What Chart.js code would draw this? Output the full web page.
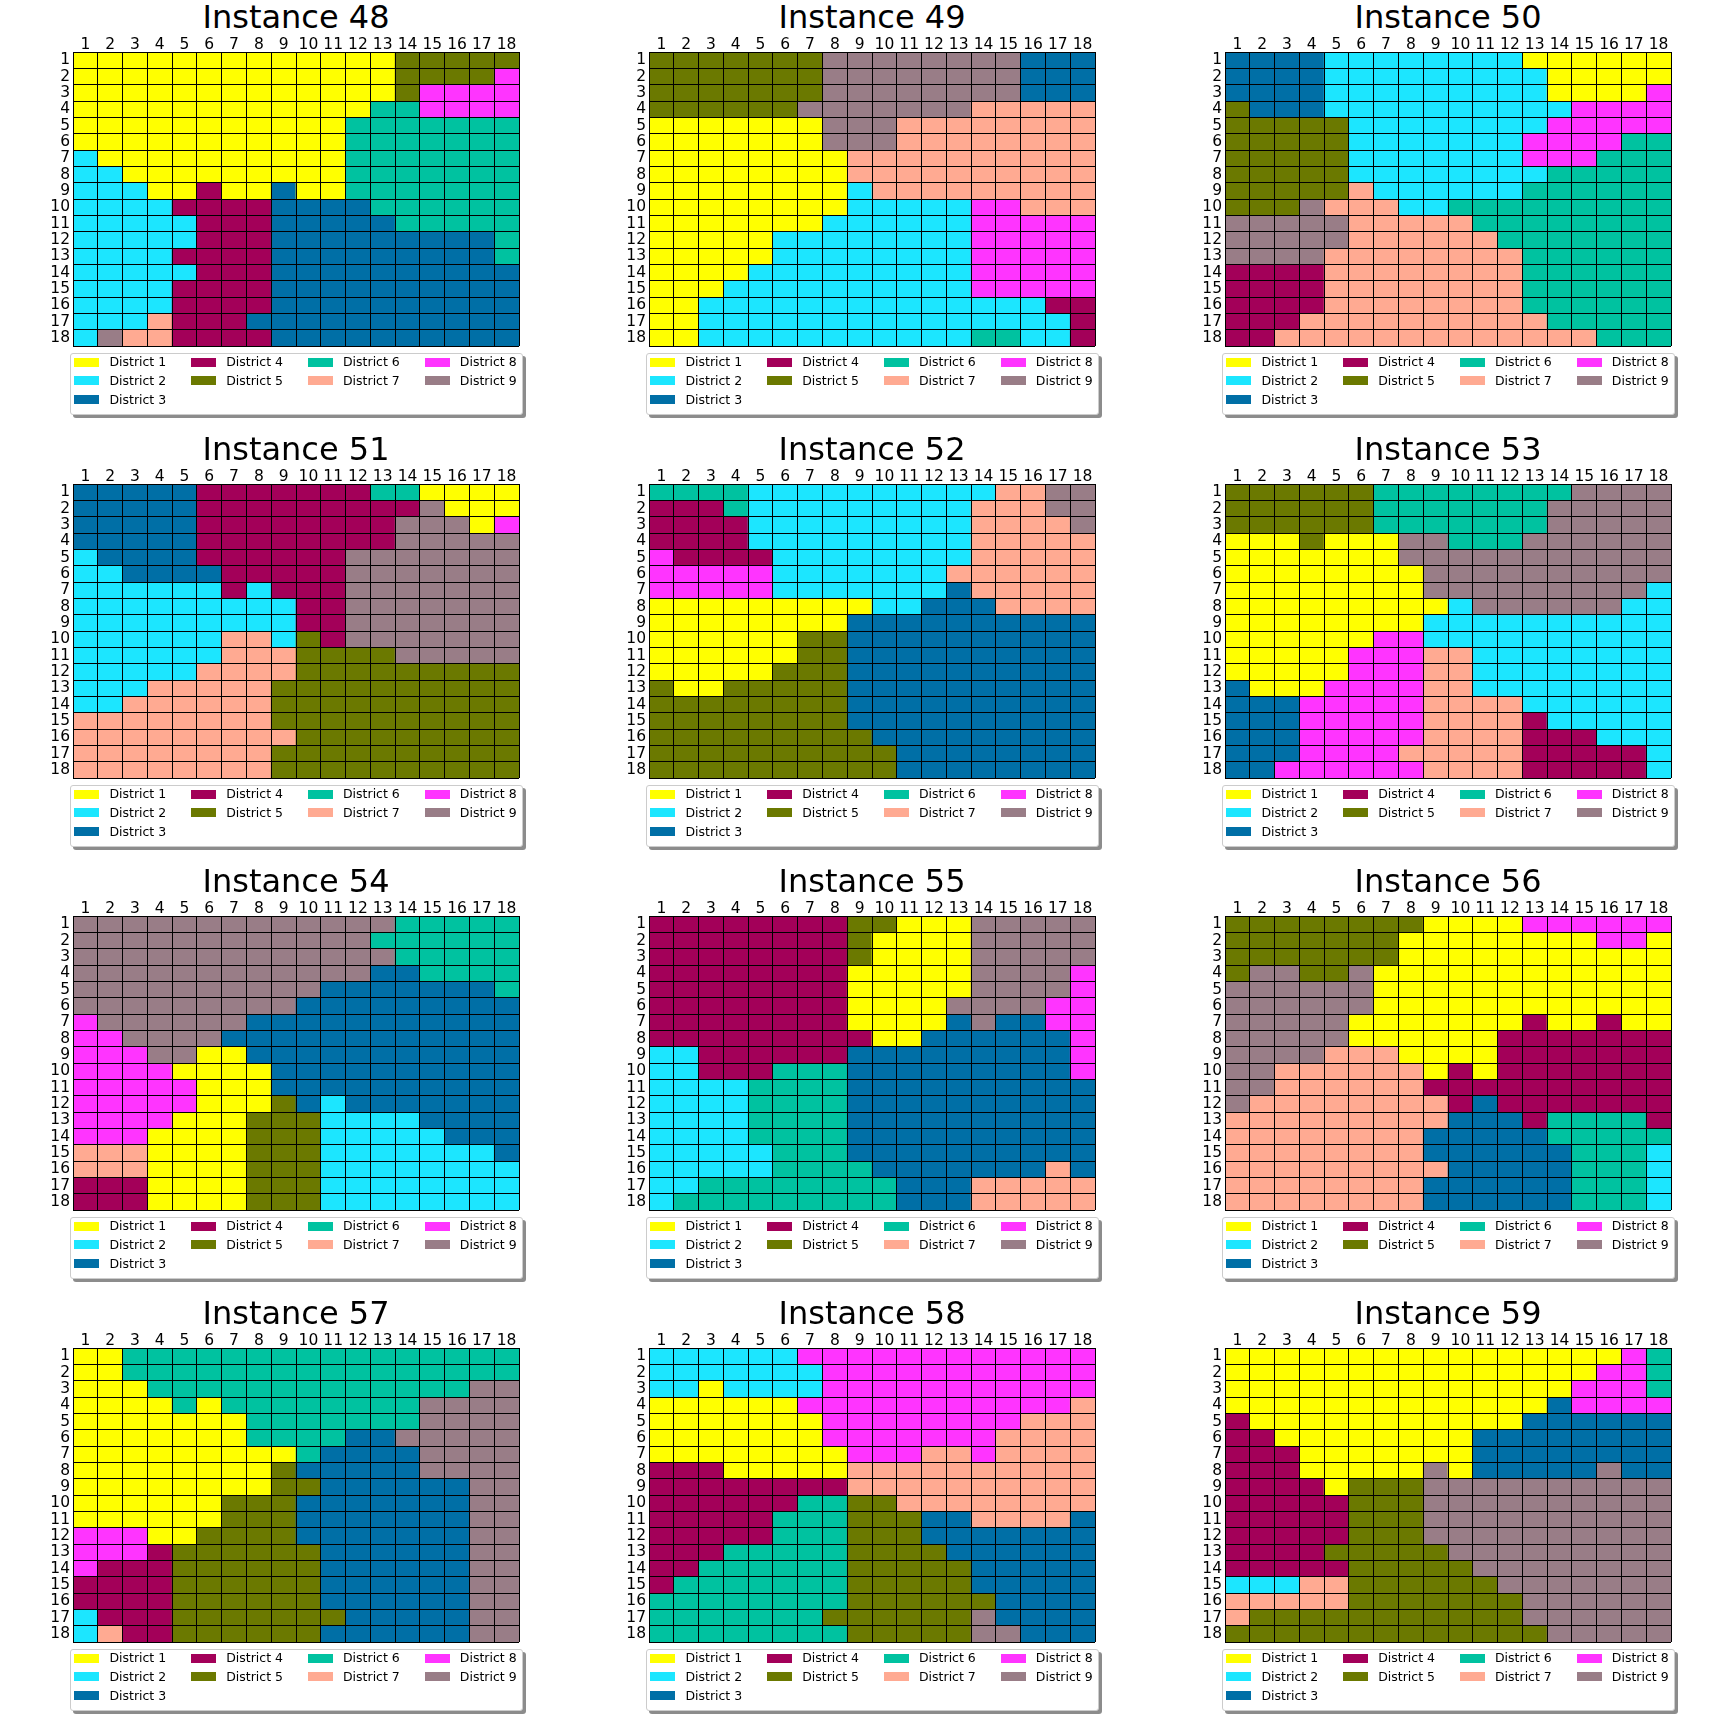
<!DOCTYPE html>
<html>
<head>
<meta charset="utf-8">
<script src="https://cdn.jsdelivr.net/npm/chart.js@4/dist/chart.umd.min.js"></script>
<style>
html,body{margin:0;padding:0;background:#fff;}
body{width:1728px;height:1728px;position:relative;overflow:hidden;font-family:'DejaVu Sans',sans-serif;color:#000;}
.title{position:absolute;font-size:32px;line-height:36px;height:36px;text-align:center;white-space:nowrap;}
.cv{position:absolute;}
.legend{position:absolute;background:#fff;border:1px solid #ccc;border-radius:3px;box-shadow:3px 3px 0 rgba(0,0,0,0.45);box-sizing:border-box;}
.sw{position:absolute;width:25px;height:9px;}
.lt{position:absolute;height:18px;line-height:18px;font-size:12.5px;white-space:nowrap;}
</style>
</head>
<body>
<script>
// ---------- data ----------
const districtNames = ['District 1','District 2','District 3','District 4','District 5','District 6','District 7','District 8','District 9'];
const districtColors = ['#FFFF00','#1CE6FF','#006FA6','#A30059','#6B7900','#00C2A0','#FFAA92','#FF34FF','#997D87'];
const columnLabels = ['1','2','3','4','5','6','7','8','9','10','11','12','13','14','15','16','17','18'];
const rowLabels = ['1','2','3','4','5','6','7','8','9','10','11','12','13','14','15','16','17','18'];
const instanceNames = ['Instance 48','Instance 49','Instance 50','Instance 51','Instance 52','Instance 53','Instance 54','Instance 55','Instance 56','Instance 57','Instance 58','Instance 59'];

// each string is one row (top to bottom); each digit is the district of a column (left to right)
const instance48 = [
'111111111111155555','111111111111155558','111111111111158888','111111111111668888',
'111111111116666666','111111111116666666','211111111116666666','221111111116666666',
'222114113116666666','222244443333666666','222224443333366666','222224443333333336',
'222244443333333336','222224443333333333','222244443333333333','222244443333333333',
'222744433333333333','297744443333333333'];
const instance49 = [
'555555599999999333','555555599999999333','555555599999999333','555555999999977777',
'111111199977777777','111111199977777777','111111117777777777','111111117777777777',
'111111112777777777','111111112222288777','111111122222288888','111112222222288888',
'111112222222288888','111122222222288888','111222222222288888','112222222222222244',
'112222222222222224','112222222222266224'];
const instance50 = [
'333322222222111111','333322222222211111','333322222222211118','533322222222228888',
'555552222222288888','555552222222888866','555552222222888666','555552222222266666',
'555557222222666666','555977722666666666','999997777766666666','999997777776666666',
'999977777777666666','444477777777666666','444477777777666666','444477777777666666',
'444777777777766666','447777777777777666'];
const instance51 = [
'333334444444661111','333334444444449111','333334444444499918','333334444444499999',
'233334444449999999','223333444449999999','222222424449999999','222222222449999999',
'222222222449999999','222222772549999999','222222777555599999','222227777555555555',
'222777775555555555','227777775555555555','777777775555555555','777777777555555555',
'777777775555555555','777777775555555555'];
const instance52 = [
'666622222222227799','444622222222277799','444422222222277779','444422222222277777',
'844442222222277777','888882222222777777','888882222222377777','111111111223337777',
'111111113333333333','111111553333333333','111111553333333333','111115553333333333',
'511555553333333333','555555553333333333','555555553333333333','555555555333333333',
'555555555533333333','555555555533333333'];
const instance53 = [
'555555666666669999','555555666666699999','555555666666699999','111511199666999999',
'111111199999999999','111111119999999999','111111119999999992','111111111299999922',
'111111112222222222','111111882222222222','111118887722222222','111118887722222222',
'311188887722222222','333888887777222222','333888887777422222','333888887777444222',
'333888877777444442','338888887777444442'];
const instance54 = [
'999999999999966666','999999999999666666','999999999999966666','999999999999336666',
'999999999933333336','999999999333333333','899999933333333333','889999333333333333',
'888991133333333333','888811113333333333','888881113333333333','888881115323333333',
'888811155522223333','888111155522222333','777111155522222223','777111155522222222',
'444111155522222222','444111155522222222'];
const instance55 = [
'444444445511199999','444444445111199999','444444445111199999','444444441111199998',
'444444441111199998','444444441111999988','444444441111393388','444444444113333338',
'224444443333333338','224446663333333338','222266663333333333','222266663333333333',
'222266663333333333','222266663333333333','222226663333333333','222226666333333373',
'226666666633377777','266666666633377777'];
const instance56 = [
'555555551111888888','555555511111111881','555555511111111111','599559111111111111',
'999999111111111111','999999111111111111','999991111111411411','999991111114444444',
'999977711114444444','997777771414444444','997777774444444444','977777777434444444',
'777777777333466664','777777773333366666','777777773333336662','777777777333336662',
'777777773333336662','777777773333336662'];
const instance57 = [
'116666666666666666','116666666666666666','111666666666666699','111161666666669999',
'111111166666669999','111111166663399999','111111111633339999','111111115333339999',
'111111115533333399','111111555333333399','111111555333333399','888115555333333399',
'888455555533333399','844455555533333399','444455555533333399','444455555533333399',
'244455555553333399','274455555533333399'];
const instance58 = [
'222222888888888888','222222288888888888','221222288888888888','111111888888888887',
'111111188888888777','111111188888887777','111111118887787777','444111117777777777',
'444444447777777777','444444665577777777','444446665553377773','444446665553333333',
'444666665555333333','446666665555533333','466666665555533333','666666665555553333',
'666666655555593333','666666665555599333'];
const instance59 = [
'111111111111111186','111111111111111886','111111111111118886','111111111111138888',
'411111111111333333','441111111133333333','444111111133333333','444111119133333933',
'444415559999999999','444445559999999999','444445559999999999','444445559999999999',
'444455555999999999','444445555599999999','222775555559999999','777775555555999999',
'755555555555999999','555555555555599999'];

const instances = [instance48, instance49, instance50, instance51, instance52, instance53,
                   instance54, instance55, instance56, instance57, instance58, instance59];

instances.forEach((g, k) => {
  if (g.length !== rowLabels.length) throw new Error('bad row count ' + instanceNames[k]);
  g.forEach((row, r) => {
    if (row.length !== columnLabels.length || /[^1-9]/.test(row))
      throw new Error('bad row ' + instanceNames[k] + ' r' + (r + 1) + ' len ' + row.length);
  });
});

// ---------- layout ----------
const colLeft = [73, 649, 1225];
const rowTop = [52, 484, 916, 1348];
const GW = 446, GH = 294;
const Y_AXIS_W = 50, X_AXIS_H = 24, PAD_R = 6, PAD_B = 14;
const legendColumns = [[0, 1, 2], [3, 4], [5, 6], [7, 8]];
const tickFont = { family: 'DejaVu Sans', size: 15.5, lineHeight: 1 };

instances.forEach((grid, k) => {
  const c = k % 3, r = Math.floor(k / 3);
  const gl = colLeft[c], gt = rowTop[r];

  // title
  const t = document.createElement('div');
  t.className = 'title';
  t.textContent = instanceNames[k];
  t.style.left = gl + 'px';
  t.style.width = GW + 'px';
  t.style.top = (gt - 53) + 'px';
  document.body.appendChild(t);

  // chart
  const cv = document.createElement('canvas');
  cv.className = 'cv';
  const cw = Y_AXIS_W + GW + PAD_R, ch = X_AXIS_H + GH + PAD_B;
  cv.width = cw; cv.height = ch;
  cv.style.width = cw + 'px'; cv.style.height = ch + 'px';
  cv.style.left = (gl - Y_AXIS_W) + 'px';
  cv.style.top = (gt - X_AXIS_H) + 'px';
  document.body.appendChild(cv);

  const datasets = grid.map((row, ri) => ({
    label: rowLabels[ri],
    data: columnLabels.map(() => 1),
    backgroundColor: row.split('').map(d => districtColors[+d - 1]),
    borderWidth: 0,
    barPercentage: 1,
    categoryPercentage: 1
  }));

  new Chart(cv, {
    type: 'bar',
    data: { labels: columnLabels, datasets },
    options: {
      responsive: false,
      animation: false,
      devicePixelRatio: 1,
      events: [],
      layout: { padding: { left: 0, top: 0, right: PAD_R, bottom: PAD_B } },
      plugins: { legend: { display: false }, tooltip: { enabled: false }, title: { display: false } },
      scales: {
        x: {
          type: 'category', position: 'top', stacked: true, offset: true,
          grid: { offset: true, color: '#000', lineWidth: 1, drawTicks: false, z: 1 },
          border: { display: true, color: '#000', width: 1, z: 2 },
          ticks: { autoSkip: false, maxRotation: 0, minRotation: 0, color: '#000', padding: -1, font: tickFont, z: 2 },
          afterFit: s => { s.height = X_AXIS_H; }
        },
        y: {
          type: 'linear', position: 'left', stacked: true, reverse: true, min: 0, max: rowLabels.length,
          grid: { color: '#000', lineWidth: 1, drawTicks: false, z: 1 },
          border: { display: true, color: '#000', width: 1, z: 2 },
          afterBuildTicks: s => { s.ticks = rowLabels.map((_, i) => ({ value: i })).concat([{ value: rowLabels.length }]); },
          ticks: {
            autoSkip: false, color: '#000', padding: 3, font: tickFont, z: 2,
            labelOffset: GH / rowLabels.length / 2,
            callback: (v, i) => (i < rowLabels.length ? rowLabels[i] : '')
          },
          afterFit: s => { s.width = Y_AXIS_W; }
        }
      }
    }
  });

  // legend
  const lg = document.createElement('div');
  lg.className = 'legend';
  lg.style.left = (gl - 3.3) + 'px';
  lg.style.top = (gt + GH + 6.8) + 'px';
  lg.style.width = '453px';
  lg.style.height = '62px';
  legendColumns.forEach((col, ci) => {
    col.forEach((d, j) => {
      const sx = 3.7 + ci * 116.8, cy = 8.4 + j * 18.7;
      const sw = document.createElement('div');
      sw.className = 'sw';
      sw.style.background = districtColors[d];
      sw.style.left = sx + 'px';
      sw.style.top = (cy - 4.5) + 'px';
      lg.appendChild(sw);
      const lt = document.createElement('div');
      lt.className = 'lt';
      lt.textContent = districtNames[d];
      lt.style.left = (sx + 35) + 'px';
      lt.style.top = (cy - 9) + 'px';
      lg.appendChild(lt);
    });
  });
  document.body.appendChild(lg);
});
</script>
</body>
</html>
